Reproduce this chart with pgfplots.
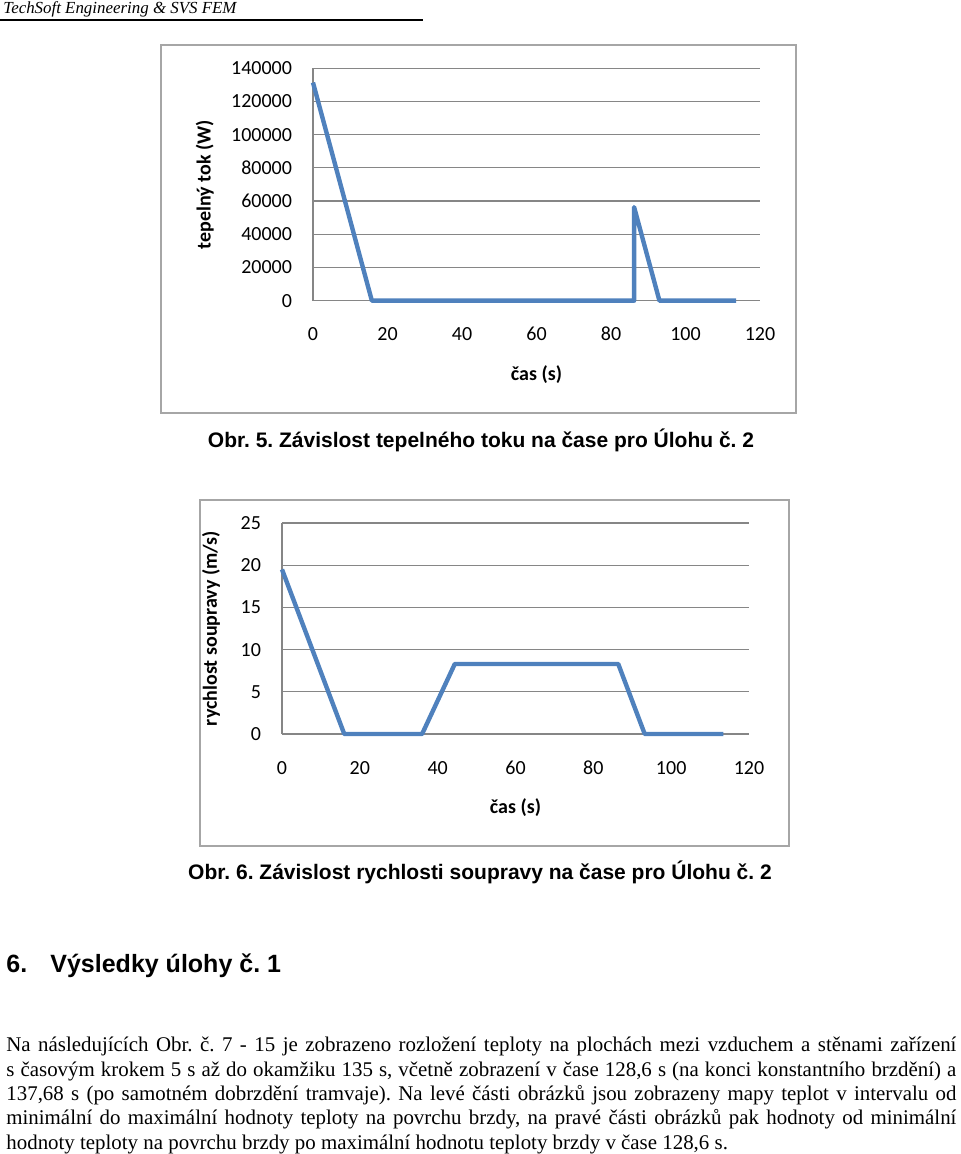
\documentclass[border=0pt]{standalone}
\usepackage{pgfplots}
\pgfplotsset{compat=1.18}
\usepackage{fontspec}
\setmainfont{Liberation Serif}
\newfontfamily\arial{Liberation Sans}
\newfontfamily\calibri{Carlito}
\definecolor{xlblue}{HTML}{4F81BD}
\definecolor{xlgrid}{HTML}{868686}
\definecolor{xlframe}{HTML}{A6A6A6}
\frenchspacing
\pgfplotsset{xlstyle/.style={
  scale only axis,
  axis x line=bottom, axis y line=left,
  axis line style={-, xlgrid, line width=0.6pt},
  ymajorgrids, grid style={xlgrid, line width=0.6pt},
  major tick length=0pt,
  scaled y ticks=false, scaled x ticks=false,
  tick label style={font=\calibri\fontsize{10}{12}\selectfont},
  /pgf/number format/assume math mode=true,
  xmin=0, xmax=120, xtick={0,20,40,60,80,100,120},
  xticklabels={0,20,40,60,80,100,120},
  xticklabel style={anchor=base, yshift=-20pt},
  yticklabel style={anchor=east, xshift=-7pt},
  label style={font=\calibri\bfseries\fontsize{10}{12}\selectfont},
  clip=false,
}}
\begin{document}
\begin{tikzpicture}
\begin{scope}[x=0.5pt,y=-0.5pt]
\path[use as bounding box] (0,0) rectangle (960,1154);
% header
\node[anchor=base west, inner sep=0, font=\itshape\fontsize{8.45}{10}\selectfont] at (3,14) {TechSoft Engineering \& SVS FEM};
\draw[line width=1pt] (0,20.5) -- (423,20.5);
% frames
\draw[xlframe, line width=0.75pt] (161,45) rectangle (796,413);
\draw[xlframe, line width=0.75pt] (200,500) rectangle (789,846);
% captions
\node[anchor=center, font=\arial\bfseries\fontsize{10.5}{12}\selectfont] at (481,440) {Obr. 5. Závislost tepelného toku na čase pro Úlohu č. 2};
\node[anchor=center, font=\arial\bfseries\fontsize{10.5}{12}\selectfont] at (480,872) {Obr. 6. Závislost rychlosti soupravy na čase pro Úlohu č. 2};
% heading
\node[anchor=base west, inner sep=0, font=\arial\bfseries\fontsize{12.5}{14}\selectfont] at (6,972) {6.};
\node[anchor=base west, inner sep=0, font=\arial\bfseries\fontsize{12.5}{14}\selectfont] at (50,972) {Výsledky úlohy č. 1};
% body text
\begin{scope}[every node/.style={anchor=base west, inner sep=0, font=\fontsize{10.45}{12}\selectfont}]
\node at (6,1051.5) {\makebox[475pt][s]{Na následujících Obr. č. 7 - 15 je zobrazeno rozložení teploty na plochách mezi vzduchem a stěnami zařízení}};
\node at (6,1076) {\makebox[475pt][s]{s časovým krokem 5 s až do okamžiku 135 s, včetně zobrazení v čase 128,6 s (na konci konstantního brzdění) a}};
\node at (6,1100.3) {\makebox[475pt][s]{137,68 s (po samotném dobrzdění tramvaje). Na levé části obrázků jsou zobrazeny mapy teplot v intervalu od}};
\node at (6,1124.7) {\makebox[475pt][s]{minimální do maximální hodnoty teploty na povrchu brzdy, na pravé části obrázků pak hodnoty od minimální}};
\node at (6,1149) {hodnoty teploty na povrchu brzdy po maximální hodnotu teploty brzdy v čase 128,6 s.};
\end{scope}
\end{scope}
% chart 1
\begin{axis}[xlstyle, at={(156.5pt,-150.35pt)}, anchor=south west,
  width=223.5pt, height=116.2pt,
  ymin=0, ymax=140000,
  ytick={0,20000,40000,60000,80000,100000,120000,140000},
  yticklabels={0,20000,40000,60000,80000,100000,120000,140000},
  xlabel={čas (s)}, ylabel={tepelný tok (W)},
  xlabel style={at={(axis description cs:0.5,-0.32)}, anchor=center},
  ylabel style={at={(axis description cs:-0.242,0.5)}, anchor=center}]
\addplot[xlblue, line width=2.2pt, line join=round] coordinates {
  (0,131400) (15.8,0) (86.2,0) (86.2,56400) (93.0,0) (113.6,0)};
\end{axis}
% chart 2
\begin{axis}[xlstyle, at={(141pt,-367pt)}, anchor=south west,
  width=233.5pt, height=105.5pt,
  ymin=0, ymax=25, ytick={0,5,10,15,20,25},
  yticklabels={0,5,10,15,20,25},
  xlabel={čas (s)}, ylabel={rychlost soupravy (m/s)},
  xlabel style={at={(axis description cs:0.5,-0.351)}, anchor=center},
  ylabel style={at={(axis description cs:-0.152,0.5)}, anchor=center}]
\addplot[xlblue, line width=2.2pt, line join=round] coordinates {
  (0,19.5) (16,0) (36,0) (44.4,8.3) (86.4,8.3) (93.2,0) (113.4,0)};
\end{axis}
\end{tikzpicture}
\end{document}
